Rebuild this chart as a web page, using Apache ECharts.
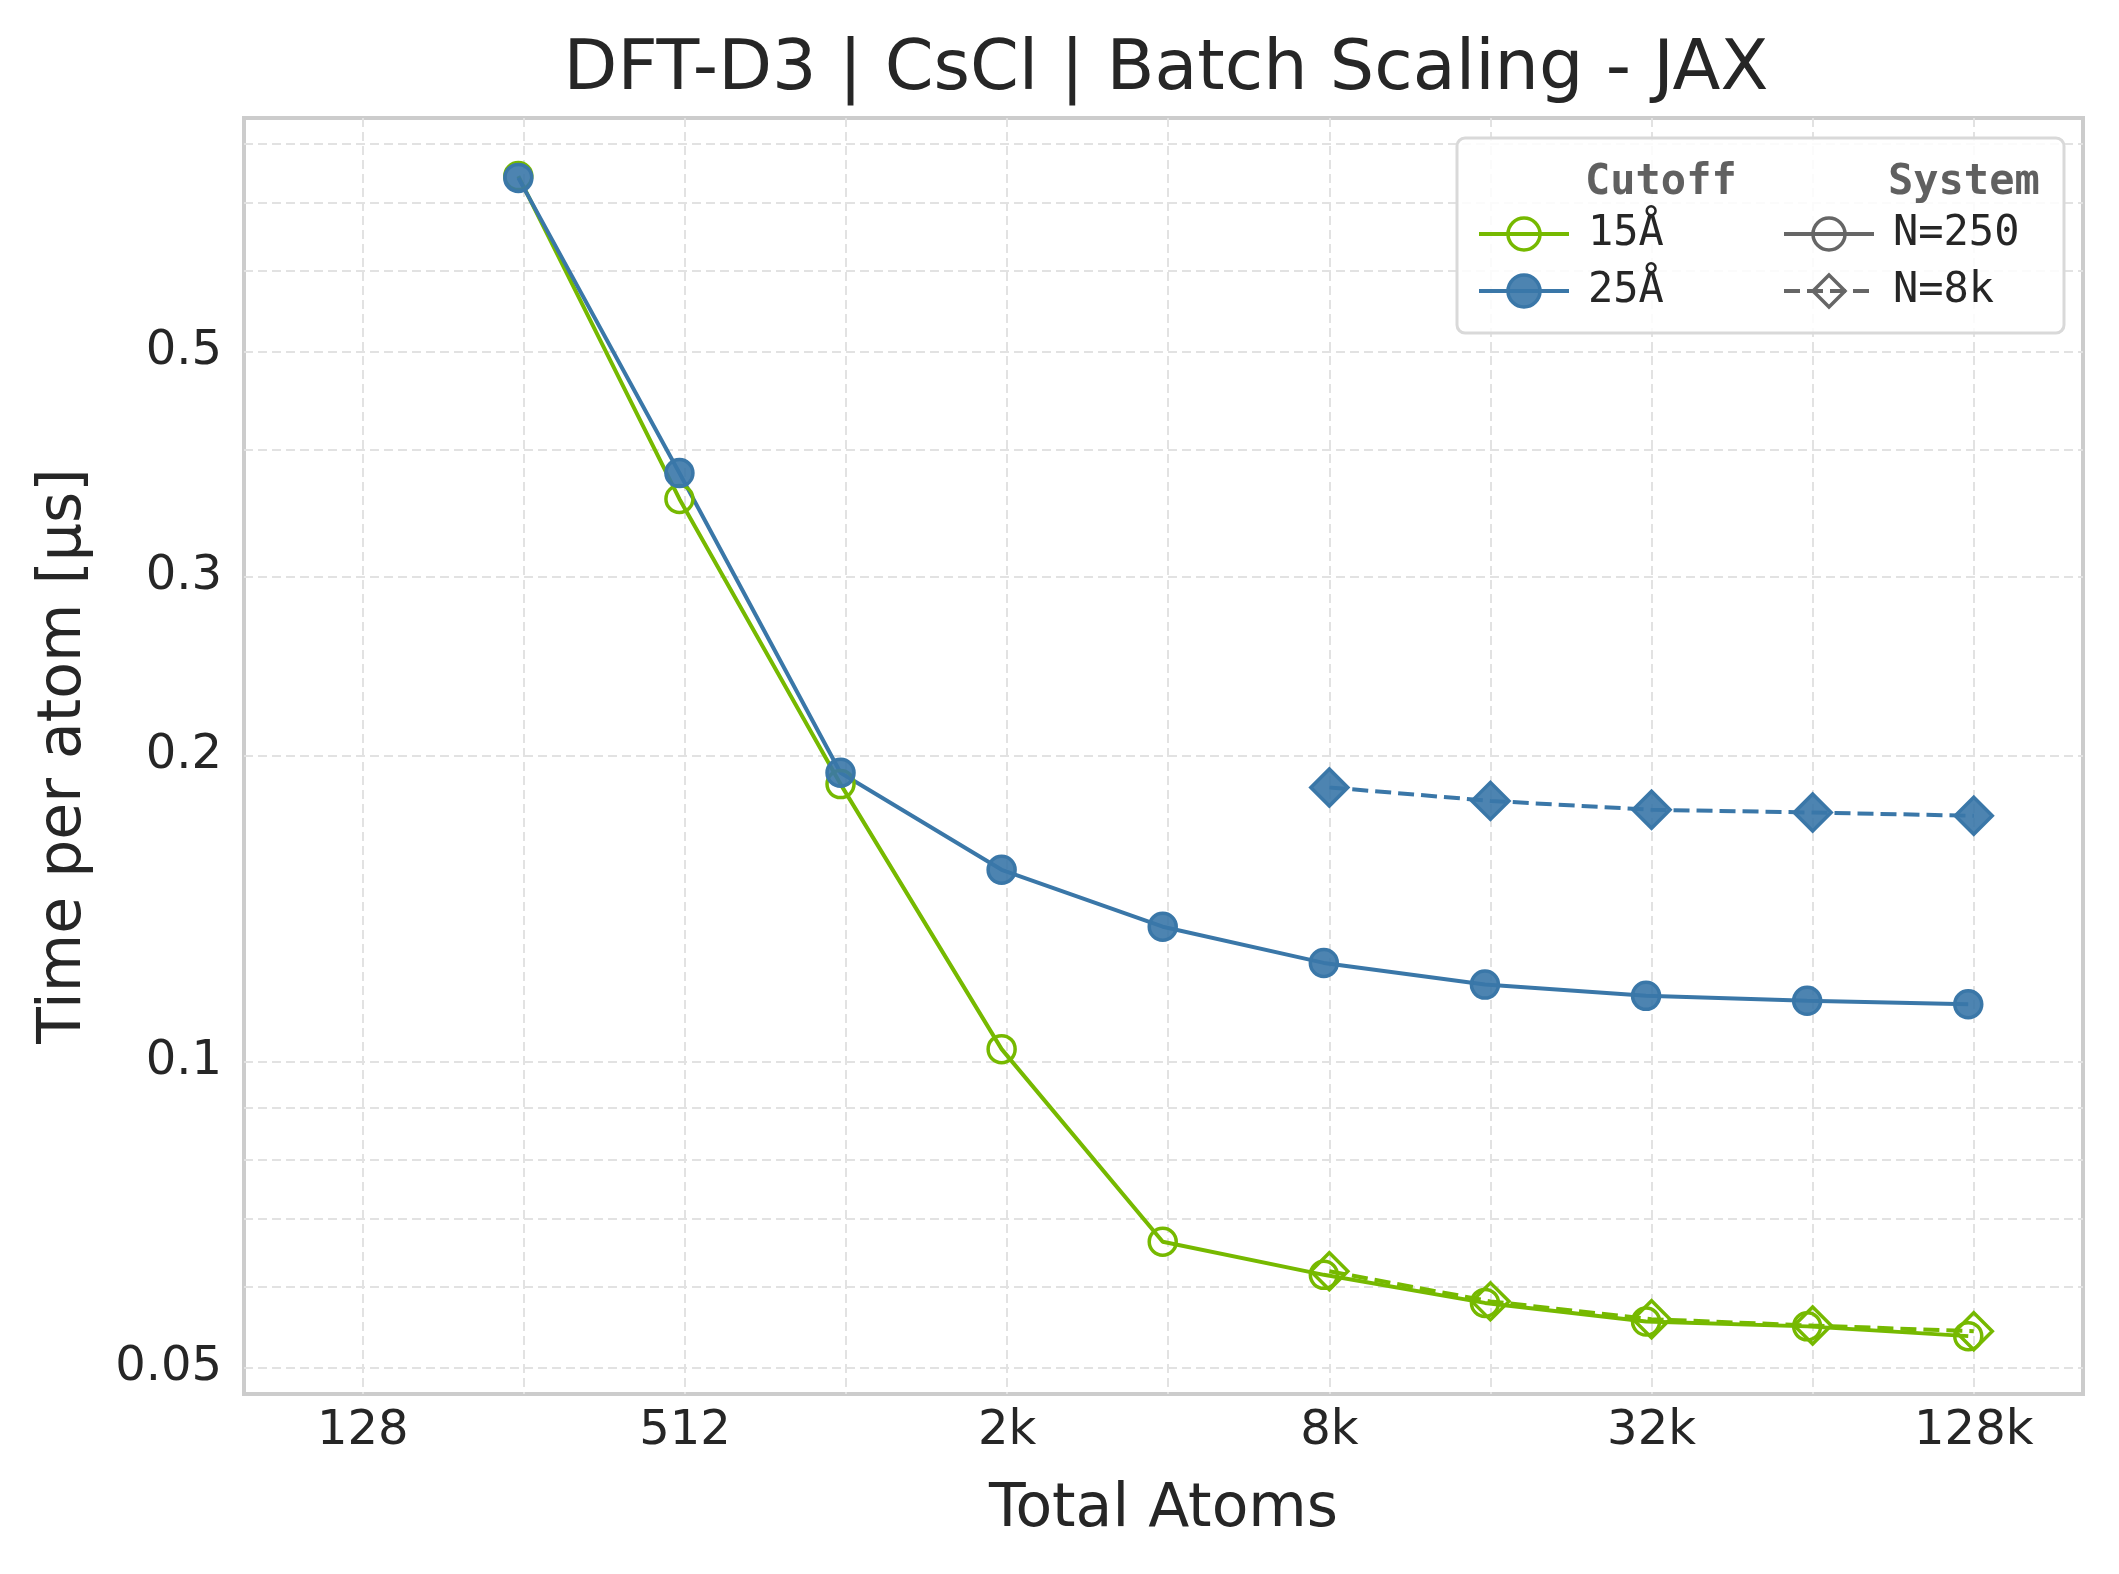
<!DOCTYPE html>
<html>
<head>
<meta charset="utf-8">
<title>DFT-D3 | CsCl | Batch Scaling - JAX</title>
<script src="https://cdn.jsdelivr.net/npm/echarts@6/dist/echarts.min.js"></script>
<style>
  html, body { margin: 0; padding: 0; background: #fff; }
  #chart { width: 2119px; height: 1574px; }
</style>
</head>
<body>
<div id="chart"></div>
<script>
// total atoms (system size x batch)
const atomsN250 = [250, 500, 1000, 2000, 4000, 8000, 16000, 32000, 64000, 128000];
const atomsN8k = [8192, 16384, 32768, 65536, 131072];

// time per atom [µs]
const cut15N250 = [0.744, 0.358, 0.1876, 0.1029, 0.0665, 0.0617, 0.0579, 0.0555, 0.0549, 0.0537];
const cut15N8k = [0.0622, 0.0581, 0.0558, 0.0550, 0.0543];
const cut25N250 = [0.741, 0.3796, 0.1925, 0.1545, 0.1358, 0.1251, 0.1191, 0.1161, 0.1148, 0.1139];
const cut25N8k = [0.1862, 0.1806, 0.1770, 0.1759, 0.1746];

// ticks / grid
const xTickValues = [128, 512, 2048, 8192, 32768, 131072];
const xTickLabels = ['128', '512', '2k', '8k', '32k', '128k'];
const xGridValues = [128, 256, 512, 1024, 2048, 4096, 8192, 16384, 32768, 65536, 131072];
const yTickValues = [0.05, 0.1, 0.2, 0.3, 0.5];
const yTickLabels = ['0.05', '0.1', '0.2', '0.3', '0.5'];
const yGridValues = [0.05, 0.06, 0.07, 0.08, 0.09, 0.1, 0.2, 0.3, 0.4, 0.5, 0.6, 0.7, 0.8];

const GREEN = '#76b900';
const BLUE = '#3a77a8';
const GRAY = '#666666';
const TEXT = '#262626';
const SANS = 'DejaVu Sans';
const MONO = 'DejaVu Sans Mono';

function pickLabel(values, labels) {
  return function (v) {
    for (let i = 0; i < values.length; i++) {
      if (Math.abs(v - values[i]) / values[i] < 1e-6) return labels[i];
    }
    return '';
  };
}

function pairs(xs, ys) {
  return xs.map((x, i) => [x, ys[i]]);
}

function makeSeries(name, data, color, symbol, filled, dashed) {
  return {
    name: name,
    type: 'line',
    data: data,
    symbol: symbol,
    symbolSize: symbol === 'diamond' ? 37 : 27,
    showSymbol: true,
    lineStyle: { color: color, width: 4, type: dashed ? [16, 7] : 'solid' },
    itemStyle: {
      color: filled ? echarts.color.modifyAlpha(color, 0.9) : 'rgba(255,255,255,0)',
      borderColor: color,
      borderWidth: 3.5
    },
    emphasis: { disabled: true },
    z: 2
  };
}

function makeLegend(names, left, selectable) {
  return {
    data: names,
    orient: 'vertical',
    left: left, top: 213,
    padding: 0,
    itemWidth: 90, itemHeight: 40, itemGap: 15,
    lineStyle: { width: 4 },
    itemStyle: { borderWidth: 3.5 },
    textStyle: { fontFamily: MONO, fontSize: 42, color: TEXT, lineHeight: 40, padding: [0, 0, 0, 14] },
    selectedMode: selectable,
    z: 20
  };
}

const chart = echarts.init(document.getElementById('chart'), null, { renderer: 'canvas' });

const option = {
  backgroundColor: '#ffffff',
  animation: false,
  textStyle: { fontFamily: SANS },
  tooltip: { trigger: 'item' },
  grid: {
    left: 244, right: 36, top: 118, bottom: 180,
    show: true, borderColor: '#cccccc', borderWidth: 4, backgroundColor: '#ffffff'
  },
  xAxis: {
    type: 'log',
    logBase: 2,
    min: 76.8,
    max: 209715.2,
    axisLine: { show: false },
    axisTick: { show: false, customValues: xGridValues },
    axisLabel: {
      customValues: xTickValues,
      formatter: pickLabel(xTickValues, xTickLabels),
      fontSize: 48, color: TEXT, fontFamily: SANS, margin: 14
    },
    splitLine: { show: true, lineStyle: { color: '#e2e2e2', width: 2, type: [9, 5] } },
    name: 'Total Atoms',
    nameLocation: 'middle',
    nameGap: 86,
    nameTextStyle: { fontSize: 60, color: TEXT, fontFamily: SANS }
  },
  yAxis: {
    type: 'log',
    logBase: 10,
    min: 0.0471,
    max: 0.8487,
    axisLine: { show: false },
    axisTick: { show: false, customValues: yGridValues },
    axisLabel: {
      customValues: yTickValues,
      formatter: pickLabel(yTickValues, yTickLabels),
      fontSize: 48, color: TEXT, fontFamily: SANS, margin: 22
    },
    splitLine: { show: true, lineStyle: { color: '#e2e2e2', width: 2, type: [9, 5] } },
    name: 'Time per atom [µs]',
    nameLocation: 'middle',
    nameRotate: 90,
    nameGap: 150,
    nameTextStyle: { fontSize: 60, color: TEXT, fontFamily: SANS }
  },
  legend: [
    makeLegend(['15Å', '25Å'], 1477, true),
    makeLegend(['N=250', 'N=8k'], 1782, false)
  ],
  graphic: [
    {
      type: 'text', z: 20,
      style: {
        text: 'DFT-D3 | CsCl | Batch Scaling - JAX',
        x: 1166, y: 71, textAlign: 'center', textVerticalAlign: 'middle',
        font: '70px "DejaVu Sans"', fill: TEXT
      }
    },
    {
      type: 'rect', z: 10,
      shape: { x: 1457, y: 138, width: 607, height: 195, r: 8 },
      style: { fill: 'rgba(255,255,255,0.85)', stroke: '#d9d9d9', lineWidth: 3 }
    },
    {
      type: 'text', z: 20,
      style: {
        text: 'Cutoff', x: 1585, y: 183, textVerticalAlign: 'middle',
        font: 'bold 42px "DejaVu Sans Mono"', fill: '#606060'
      }
    },
    {
      type: 'text', z: 20,
      style: {
        text: 'System', x: 1888, y: 183, textVerticalAlign: 'middle',
        font: 'bold 42px "DejaVu Sans Mono"', fill: '#606060'
      }
    }
  ],
  series: [
    makeSeries('15Å', pairs(atomsN250, cut15N250), GREEN, 'circle', false, false),
    makeSeries('15Å', pairs(atomsN8k, cut15N8k), GREEN, 'diamond', false, true),
    makeSeries('25Å', pairs(atomsN250, cut25N250), BLUE, 'circle', true, false),
    makeSeries('25Å', pairs(atomsN8k, cut25N8k), BLUE, 'diamond', true, true),
    // style-only entries for the "System" legend column
    makeSeries('N=250', [], GRAY, 'circle', false, false),
    makeSeries('N=8k', [], GRAY, 'diamond', false, true)
  ]
};

chart.setOption(option);
</script>
</body>
</html>
